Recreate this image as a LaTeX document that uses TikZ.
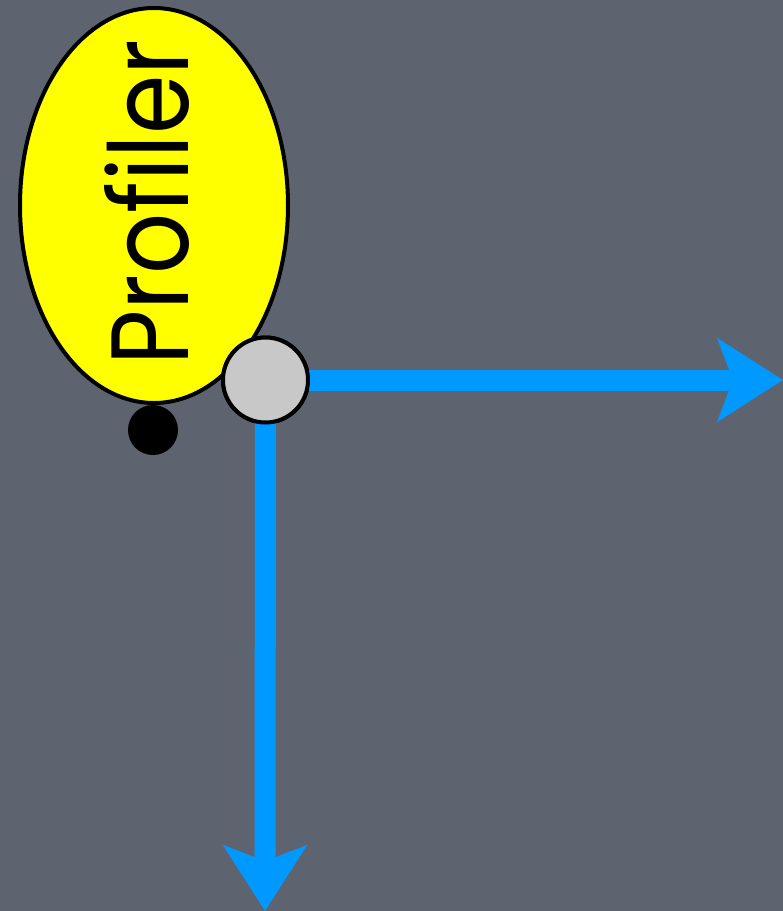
\documentclass[tikz,border=0pt]{standalone}
\usepackage{fontspec}
\setmainfont{Poppins}
\usetikzlibrary{shapes.geometric,arrows.meta}
\definecolor{bg}{HTML}{5D6470}
\definecolor{flow}{HTML}{0099FF}
\definecolor{junc}{HTML}{C8C8C8}
\definecolor{hilite}{HTML}{FFFF00}
\tikzset{
  profiler/.style={ellipse,draw=black,line width=4pt,fill=hilite,minimum width=268pt,minimum height=395pt,inner sep=0pt},
  junction/.style={circle,draw=black,line width=4pt,fill=junc,minimum size=85pt,inner sep=0pt},
  dotnode/.style={circle,fill=black,minimum size=50pt,inner sep=0pt},
  flowarrow/.style={draw=flow,line width=21pt,-{Stealth[length=65pt,width=82pt,inset=15pt]}},
  label/.style={rotate=90,inner sep=0pt,font=\fontsize{110}{110}\selectfont}
}
\begin{document}
\begin{tikzpicture}[x=1pt,y=-1pt]
\fill[bg] (0,0) rectangle (783,911);
\useasboundingbox (0,0) rectangle (783,911);
\node[profiler] (prof) at (154,205.5) {};
\node[label] (txt) at (147,202.5) {\scalebox{0.87}[1]{Profiler}};
\node[dotnode] (dot) at (153,430) {};
\coordinate (right) at (783,380);
\coordinate (down) at (265,911);
\node[junction] (j) at (265.5,380) {};
\draw[flowarrow] (j.center) -- (right);
\draw[flowarrow] (j.center) -- (down);
\node[junction] at (265.5,380) {};
\end{tikzpicture}
\end{document}
